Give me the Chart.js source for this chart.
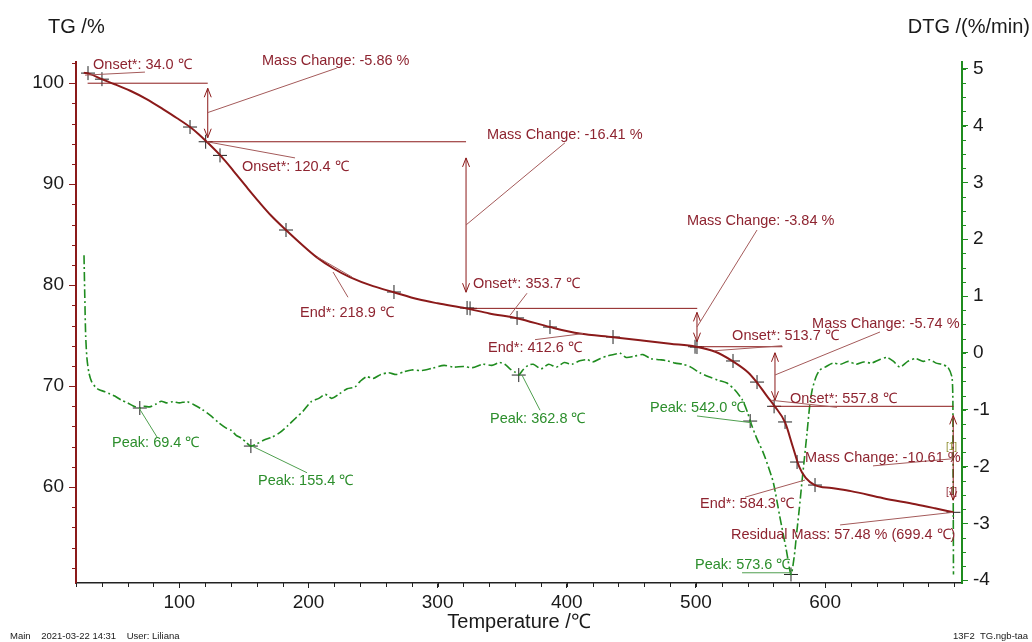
<!DOCTYPE html>
<html>
<head>
<meta charset="utf-8">
<script src="https://cdn.jsdelivr.net/npm/chart.js@4.4.1/dist/chart.umd.min.js"></script>
<style>
    html, body { margin: 0; padding: 0; background: #fff; }
</style>
</head>
<body>
<canvas id="tgChart" width="1032" height="642"></canvas>
<script>
const tgTemps = [26, 31, 40, 50, 62, 75, 87.6, 98, 108.3, 115, 121.2, 132.8, 142, 152.2, 162, 171, 182.6, 195, 206, 220, 232, 250, 266, 285, 300, 322, 340, 362, 387, 410, 436, 460, 480, 500, 515, 528, 540, 547, 555, 561, 569, 575, 580, 585, 592, 605, 620, 645, 670, 685, 699.4];
const tgValues = [101.05, 100.9, 100.4, 99.9, 99.25, 98.4, 97.4, 96.55, 95.66, 94.95, 94.2, 92.7, 91.3, 89.7, 88.2, 86.9, 85.46, 84.0, 82.8, 81.6, 80.8, 79.9, 79.3, 78.6, 78.2, 77.7, 77.2, 76.7, 75.85, 75.2, 74.85, 74.5, 74.2, 73.9, 73.4, 72.5, 71.4, 70.4, 69.0, 68.0, 66.4, 64.0, 62.0, 60.9, 60.2, 59.9, 59.6, 58.9, 58.3, 57.9, 57.5];

const dtgTemps = [26.2, 26.8, 27.5, 28.5, 30, 32, 35, 38, 42, 46, 50, 55, 60, 64, 69.4, 73, 77, 82, 86, 90, 95, 100, 106, 112, 118, 124, 130, 136, 140, 144, 148, 152, 155.4, 160, 166, 172, 178, 184, 190, 196, 202, 208, 213, 218, 224, 230, 236, 240, 245, 250, 256, 262, 268, 274, 280, 288, 296, 305, 312, 320, 327, 335, 342, 348, 352, 356, 360, 362.8, 366, 370, 374, 380, 386, 392, 398, 404, 410, 416, 420, 426, 432, 438, 441, 446, 452, 459, 465, 472, 478, 484, 490, 496, 503, 510, 517, 524, 530, 536, 540, 542, 547, 552, 556, 560, 565, 570, 573.6, 576, 578, 580, 582, 584, 586, 588, 590, 593, 596, 600, 606, 612, 618, 624, 630, 636, 642, 648, 653, 658, 664, 670, 676, 681, 686, 690, 695, 698.4, 699, 699.4];
const dtgValues = [1.72, 1.0, 0.3, -0.1, -0.35, -0.5, -0.6, -0.65, -0.68, -0.72, -0.76, -0.83, -0.88, -0.93, -0.97, -0.94, -0.95, -0.9, -0.85, -0.88, -0.86, -0.88, -0.86, -0.92, -1.0, -1.1, -1.22, -1.32, -1.36, -1.45, -1.5, -1.58, -1.64, -1.6, -1.53, -1.48, -1.4, -1.28, -1.15, -1.02, -0.86, -0.8, -0.73, -0.8, -0.72, -0.63, -0.6, -0.5, -0.42, -0.45, -0.38, -0.35, -0.38, -0.33, -0.3, -0.31, -0.27, -0.22, -0.25, -0.24, -0.26, -0.2, -0.22, -0.17, -0.2, -0.28, -0.34, -0.39, -0.3, -0.22, -0.2, -0.28, -0.2, -0.25, -0.17, -0.2, -0.14, -0.12, -0.16, -0.1, -0.05, -0.02, 0.0, -0.08, -0.06, -0.03, -0.1, -0.12, -0.14, -0.18, -0.2, -0.25, -0.35, -0.42, -0.48, -0.53, -0.65, -0.83, -1.05, -1.2, -1.5, -1.75, -2.0, -2.29, -2.89, -3.47, -3.9, -3.6, -3.17, -2.75, -2.29, -1.85, -1.41, -0.95, -0.65, -0.42, -0.3, -0.25, -0.18, -0.2, -0.15, -0.2, -0.16, -0.18, -0.12, -0.08, -0.15, -0.25, -0.15, -0.1, -0.15, -0.12, -0.18, -0.2, -0.25, -0.45, -1.5, -3.9];

const tgMarkTemps = [29.3, 40.1, 108.3, 120.4, 131.5, 182.6, 266.2, 322.8, 325.1, 361.5, 387, 435.8, 499.3, 500.8, 528.7, 547.3, 560.5, 569, 578.3, 592.2, 699.4];
const tgMarkValues = [101.0, 100.4, 95.66, 94.2, 92.85, 85.46, 79.32, 77.74, 77.7, 76.75, 75.85, 74.86, 73.9, 73.87, 72.49, 70.4, 68.0, 66.45, 62.48, 60.2, 57.5];
const dtgMarkTemps = [69.4, 155.4, 362.8, 542.0, 573.6];
const dtgMarkValues = [-0.97, -1.64, -0.39, -1.2, -3.9];

const xTicks = [100, 200, 300, 400, 500, 600];
const tgTicks = [60, 70, 80, 90, 100];
const dtgTicks = [-4, -3, -2, -1, 0, 1, 2, 3, 4, 5];

// annotation texts, anchored at temperature / TG or DTG values
const tgLabels = [
    ['Onset*: 34.0 ℃', 33.2, 101.8],
    ['Mass Change: -5.86 %', 164, 102.2],
    ['Onset*: 120.4 ℃', 148.5, 91.7],
    ['Mass Change: -16.41 %', 338.2, 94.9],
    ['Onset*: 353.7 ℃', 327.4, 80.1],
    ['End*: 218.9 ℃', 193.4, 77.24],
    ['End*: 412.6 ℃', 339, 73.8],
    ['Mass Change: -3.84 %', 493, 86.35],
    ['Onset*: 513.7 ℃', 528, 74.96],
    ['Mass Change: -5.74 %', 589.9, 76.15],
    ['Onset*: 557.8 ℃', 572.8, 68.72],
    ['Mass Change: -10.61 %', 584.5, 62.88],
    ['End*: 584.3 ℃', 503.2, 58.3],
    ['Residual Mass: 57.48 % (699.4 ℃)', 527.2, 55.26]
];
const tgLevels = [
    [29, 122, 100.0],
    [121, 322, 94.2],
    [322, 501, 77.7],
    [501, 567, 73.9],
    [557, 699.4, 68.0]
];
const tgArrows = [
    [122, 99.5, 94.6],
    [322, 92.6, 79.3],
    [500.8, 77.3, 74.4],
    [561.2, 73.3, 68.6],
    [699.2, 67.1, 58.7]
];
const tgLeaders = [
    [27, 100.8, 73.4, 101.1],
    [122.2, 97.1, 222, 101.5],
    [121.4, 94.2, 189.6, 92.6],
    [322, 85.96, 398.6, 94.1],
    [356, 77.0, 369.2, 79.2],
    [219, 81.3, 230.6, 78.8],
    [206.6, 82.8, 233.7, 80.8],
    [375.4, 74.6, 412.6, 75.2],
    [500.8, 75.85, 547.3, 85.46],
    [514, 73.5, 566.7, 74.0],
    [561.2, 71.1, 642.5, 75.36],
    [558.1, 68.6, 609.2, 67.9],
    [698.3, 62.8, 637.1, 62.1],
    [584.5, 60.7, 538, 59.0],
    [699, 57.5, 611.6, 56.25]
];
const dtgLabels = [
    ['Peak: 69.4 ℃', 47.9, -1.59],
    ['Peak: 155.4 ℃', 160.9, -2.26],
    ['Peak: 362.8 ℃', 340.6, -1.16],
    ['Peak: 542.0 ℃', 464.4, -0.97],
    ['Peak: 573.6 ℃', 499.3, -3.73]
];
const dtgLeaders = [
    [68.8, -0.97, 82.7, -1.48],
    [156.3, -1.64, 198.9, -2.11],
    [365.3, -0.39, 379.3, -1.01],
    [500.8, -1.11, 543.4, -1.23],
    [535.7, -3.87, 574.4, -3.87]
];

const FONT = "'Liberation Sans', Arial, sans-serif";
const MAROON = '#8b1a1a';
const GREEN = '#1f8c1f';

function pairs(xs, ys) {
    return xs.map((t, i) => ({ x: t, y: ys[i] }));
}

function seg(ctx, x1, y1, x2, y2) {
    ctx.beginPath();
    ctx.moveTo(x1, y1);
    ctx.lineTo(x2, y2);
    ctx.stroke();
}

const decor = {
    id: 'decor',
    afterDraw(chart) {
        const { ctx, chartArea: a, scales: { x, y, y1 } } = chart;
        ctx.save();

        // minor ticks
        ctx.lineWidth = 1;
        ctx.strokeStyle = '#222';
        for (let t = 20; t <= 700; t += 20) {
            const px = Math.round(x.getPixelForValue(t)) + 0.5;
            seg(ctx, px, a.bottom, px, a.bottom + 4);
        }
        ctx.strokeStyle = MAROON;
        for (let v = 52; v <= 102; v += 2) {
            const py = Math.round(y.getPixelForValue(v)) + 0.5;
            seg(ctx, a.left - 4, py, a.left, py);
        }
        ctx.strokeStyle = GREEN;
        for (let v = -4; v <= 5; v += 0.25) {
            const py = Math.round(y1.getPixelForValue(v)) + 0.5;
            seg(ctx, a.right, py, a.right + 4, py);
        }

        // levels and arrows
        ctx.strokeStyle = MAROON;
        ctx.lineWidth = 1;
        tgLevels.forEach(([t1, t2, v]) => {
            const py = y.getPixelForValue(v);
            seg(ctx, x.getPixelForValue(t1), py, x.getPixelForValue(t2), py);
        });
        tgArrows.forEach(([t, v1, v2]) => {
            const px = x.getPixelForValue(t);
            const p1 = y.getPixelForValue(v1);
            const p2 = y.getPixelForValue(v2);
            seg(ctx, px, p1, px, p2);
            ctx.beginPath();
            ctx.moveTo(px - 3.5, p1 + 9); ctx.lineTo(px, p1); ctx.lineTo(px + 3.5, p1 + 9);
            ctx.moveTo(px - 3.5, p2 - 9); ctx.lineTo(px, p2); ctx.lineTo(px + 3.5, p2 - 9);
            ctx.stroke();
        });

        // leader lines
        ctx.strokeStyle = '#a45a5a';
        tgLeaders.forEach(([t1, v1, t2, v2]) => {
            seg(ctx, x.getPixelForValue(t1), y.getPixelForValue(v1), x.getPixelForValue(t2), y.getPixelForValue(v2));
        });
        ctx.strokeStyle = '#4f9f4f';
        dtgLeaders.forEach(([t1, v1, t2, v2]) => {
            seg(ctx, x.getPixelForValue(t1), y1.getPixelForValue(v1), x.getPixelForValue(t2), y1.getPixelForValue(v2));
        });

        // texts
        ctx.font = '14.5px ' + FONT;
        ctx.textAlign = 'left';
        ctx.textBaseline = 'middle';
        ctx.fillStyle = '#8e2430';
        tgLabels.forEach(([s, t, v]) => ctx.fillText(s, x.getPixelForValue(t), y.getPixelForValue(v)));
        ctx.fillStyle = '#2c8e2c';
        dtgLabels.forEach(([s, t, v]) => ctx.fillText(s, x.getPixelForValue(t), y1.getPixelForValue(v)));

        ctx.font = '10px ' + FONT;
        ctx.fillStyle = '#8a8a2a';
        ctx.fillText('[1]', x.getPixelForValue(693.6), y.getPixelForValue(63.9));
        ctx.fillStyle = '#8e2430';
        ctx.fillText('[1]', x.getPixelForValue(693.6), y.getPixelForValue(59.5));

        // axis titles and footer
        ctx.fillStyle = '#1a1a1a';
        ctx.font = '20px ' + FONT;
        ctx.fillText('TG /%', 48, 27);
        ctx.textAlign = 'right';
        ctx.fillText('DTG /(%/min)', 1030, 27);
        ctx.font = '9.5px ' + FONT;
        ctx.fillText('13F2  TG.ngb-taa', 1028, 636);
        ctx.textAlign = 'left';
        ctx.fillText('Main    2021-03-22 14:31    User: Liliana', 10, 636);

        ctx.restore();
    }
};

const ctx = document.getElementById('tgChart').getContext('2d');

new Chart(ctx, {
    type: 'line',
    data: {
        datasets: [
            {
                label: 'TG',
                data: pairs(tgTemps, tgValues),
                yAxisID: 'y',
                borderColor: MAROON,
                borderWidth: 2,
                pointRadius: 0,
                cubicInterpolationMode: 'monotone'
            },
            {
                label: 'DTG',
                data: pairs(dtgTemps, dtgValues),
                yAxisID: 'y1',
                borderColor: GREEN,
                borderWidth: 1.6,
                borderDash: [9, 3, 2, 3],
                pointRadius: 0,
                tension: 0.25
            },
            {
                label: 'TG marks',
                data: pairs(tgMarkTemps, tgMarkValues),
                yAxisID: 'y',
                showLine: false,
                pointStyle: 'cross',
                pointRadius: 7,
                pointBorderWidth: 1,
                pointBorderColor: '#222'
            },
            {
                label: 'DTG marks',
                data: pairs(dtgMarkTemps, dtgMarkValues),
                yAxisID: 'y1',
                showLine: false,
                pointStyle: 'cross',
                pointRadius: 7,
                pointBorderWidth: 1,
                pointBorderColor: '#222'
            }
        ]
    },
    options: {
        responsive: false,
        animation: false,
        layout: { padding: { top: 62, left: 0, right: 0, bottom: 0 } },
        plugins: {
            legend: { display: false },
            tooltip: { enabled: false }
        },
        scales: {
            x: {
                type: 'linear',
                min: 20,
                max: 706,
                afterBuildTicks: s => { s.ticks = xTicks.map(v => ({ value: v })); },
                afterFit: s => { s.height = 59; },
                grid: { drawOnChartArea: false, tickLength: 5, color: '#222' },
                border: { color: '#222', width: 1.5 },
                ticks: { color: '#1a1a1a', padding: 3, maxRotation: 0, font: { size: 19, family: FONT } },
                title: {
                    display: true,
                    text: 'Temperature /℃',
                    color: '#1a1a1a',
                    padding: { top: 0, bottom: 8 },
                    font: { size: 20, family: FONT }
                }
            },
            y: {
                position: 'left',
                min: 50.5,
                max: 102.1,
                afterBuildTicks: s => { s.ticks = tgTicks.map(v => ({ value: v })); },
                afterFit: s => { s.width = 76; },
                grid: { drawOnChartArea: false, tickLength: 7, color: MAROON },
                border: { color: MAROON, width: 2 },
                ticks: { color: '#1a1a1a', padding: 5, font: { size: 19, family: FONT } }
            },
            y1: {
                position: 'right',
                min: -4.05,
                max: 5.12,
                afterBuildTicks: s => { s.ticks = dtgTicks.map(v => ({ value: v })); },
                afterFit: s => { s.width = 70; },
                grid: { drawOnChartArea: false, tickLength: 6, color: GREEN },
                border: { color: GREEN, width: 2 },
                ticks: { color: '#1a1a1a', padding: 5, font: { size: 19, family: FONT } }
            }
        }
    },
    plugins: [decor]
});
</script>
</body>
</html>
